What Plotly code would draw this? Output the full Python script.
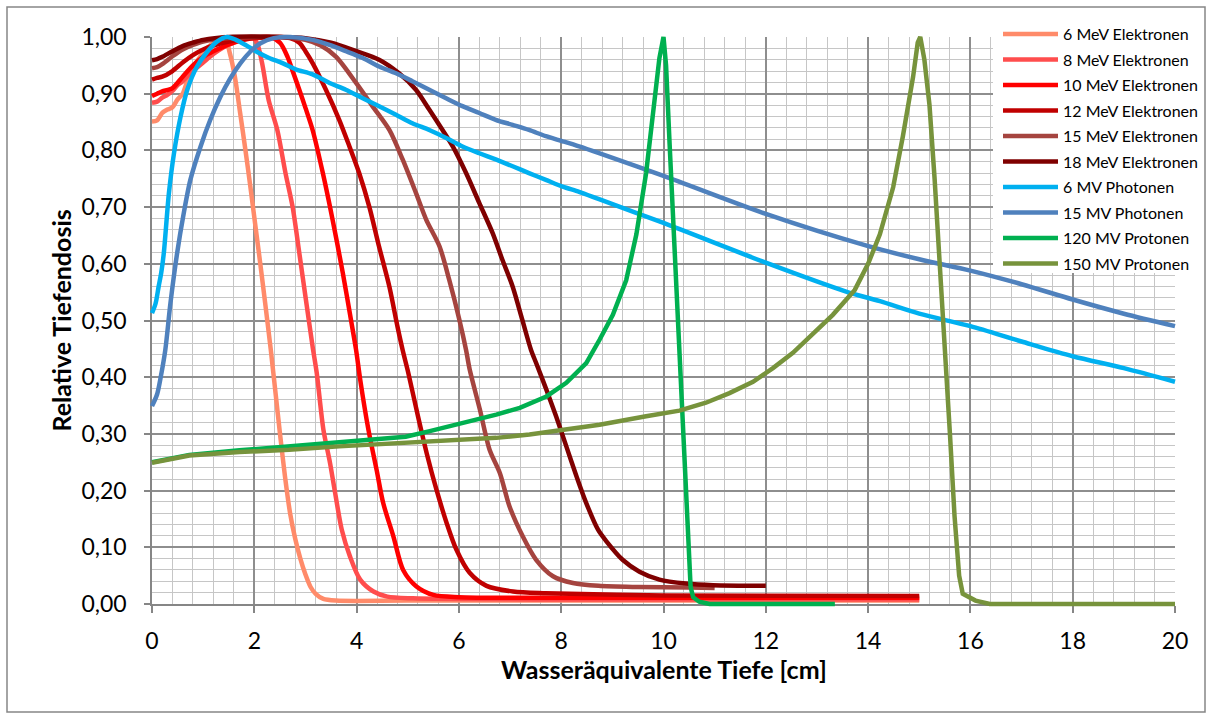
import plotly.graph_objects as go

# ---------------- data ----------------
x_6mev = [0, 0.1, 0.2, 0.3, 0.4, 0.5, 0.6, 0.7, 0.8, 0.9, 1.0, 1.1, 1.2, 1.3, 1.42, 1.52, 1.62, 1.72, 1.82, 1.92, 2.02, 2.12, 2.22, 2.32, 2.42, 2.5, 2.6, 2.7, 2.8, 2.9, 3.0, 3.1, 3.2, 3.35, 3.6, 5, 10, 15]
y_6mev = [0.851, 0.853, 0.866, 0.872, 0.876, 0.89, 0.90, 0.925, 0.945, 0.96, 0.972, 0.982, 0.99, 0.996, 1.0, 0.972, 0.93, 0.868, 0.805, 0.738, 0.668, 0.598, 0.525, 0.45, 0.368, 0.302, 0.225, 0.16, 0.115, 0.08, 0.052, 0.03, 0.018, 0.009, 0.006, 0.006, 0.006, 0.006]

x_8mev = [0, 0.1, 0.2, 0.3, 0.4, 0.5, 0.6, 0.8, 1.0, 1.2, 1.4, 1.6, 1.8, 1.95, 2.05, 2.15, 2.28, 2.45, 2.61, 2.75, 2.88, 3.01, 3.14, 3.22, 3.35, 3.48, 3.58, 3.71, 3.87, 4.07, 4.33, 4.6, 5.1, 8, 15]
y_8mev = [0.884, 0.886, 0.893, 0.898, 0.905, 0.915, 0.922, 0.94, 0.955, 0.97, 0.982, 0.99, 0.997, 1.0, 0.99, 0.955, 0.889, 0.836, 0.76, 0.70, 0.619, 0.536, 0.454, 0.408, 0.308, 0.249, 0.196, 0.131, 0.084, 0.043, 0.022, 0.013, 0.01, 0.008, 0.008]

x_10mev = [0, 0.1, 0.2, 0.4, 0.6, 0.8, 1.0, 1.2, 1.4, 1.6, 1.8, 2.0, 2.3, 2.5, 2.65, 2.75, 2.88, 3.0, 3.14, 3.34, 3.53, 3.73, 3.89, 3.99, 4.07, 4.23, 4.39, 4.52, 4.72, 4.91, 5.17, 5.5, 6.0, 8, 15]
y_10mev = [0.896, 0.9, 0.904, 0.91, 0.93, 0.95, 0.965, 0.975, 0.983, 0.99, 0.995, 0.998, 1.0, 0.99, 0.965, 0.94, 0.907, 0.875, 0.836, 0.76, 0.678, 0.584, 0.501, 0.448, 0.396, 0.308, 0.237, 0.178, 0.119, 0.06, 0.031, 0.016, 0.012, 0.011, 0.011]

x_12mev = [0, 0.1, 0.2, 0.4, 0.6, 0.8, 1.0, 1.2, 1.5, 2.0, 2.5, 2.7, 2.88, 3.0, 3.14, 3.4, 3.66, 3.86, 4.05, 4.25, 4.44, 4.64, 4.80, 4.9, 5.01, 5.2, 5.37, 5.56, 5.76, 5.95, 6.21, 6.54, 7.06, 7.7, 10, 15]
y_12mev = [0.925, 0.928, 0.93, 0.94, 0.955, 0.968, 0.978, 0.985, 0.992, 0.998, 1.0, 0.998, 0.99, 0.975, 0.954, 0.907, 0.854, 0.807, 0.76, 0.70, 0.63, 0.56, 0.489, 0.448, 0.408, 0.331, 0.266, 0.202, 0.143, 0.096, 0.055, 0.032, 0.022, 0.019, 0.015, 0.014]

x_15mev = [0, 0.1, 0.2, 0.4, 0.6, 0.8, 1.0, 1.5, 2.0, 2.5, 3.0, 3.3, 3.6, 3.99, 4.31, 4.64, 4.9, 5.16, 5.36, 5.62, 5.81, 6.01, 6.14, 6.21, 6.41, 6.6, 6.8, 6.99, 7.25, 7.51, 7.84, 8.23, 8.73, 9.5, 10.5, 11.0]
y_15mev = [0.945, 0.947, 0.952, 0.966, 0.978, 0.986, 0.992, 0.998, 1.0, 1.0, 0.995, 0.985, 0.965, 0.919, 0.878, 0.836, 0.784, 0.725, 0.678, 0.631, 0.572, 0.501, 0.448, 0.414, 0.343, 0.272, 0.231, 0.172, 0.119, 0.078, 0.049, 0.037, 0.032, 0.03, 0.029, 0.028]

x_18mev = [0, 0.1, 0.2, 0.4, 0.6, 0.8, 1.0, 1.5, 2.5, 3.0, 3.5, 4.0, 4.44, 4.83, 5.16, 5.42, 5.68, 5.88, 6.14, 6.4, 6.66, 6.85, 7.05, 7.24, 7.41, 7.51, 7.71, 7.9, 8.1, 8.3, 8.49, 8.72, 8.88, 9.2, 9.53, 9.92, 10.44, 10.97, 12.0]
y_18mev = [0.959, 0.961, 0.965, 0.975, 0.984, 0.99, 0.995, 1.0, 1.0, 0.998, 0.99, 0.975, 0.96, 0.936, 0.907, 0.872, 0.836, 0.807, 0.76, 0.707, 0.654, 0.607, 0.56, 0.501, 0.448, 0.425, 0.378, 0.331, 0.278, 0.225, 0.178, 0.131, 0.111, 0.078, 0.057, 0.043, 0.036, 0.033, 0.032]

x_6mv = [0, 0.07, 0.13, 0.18, 0.23, 0.33, 0.43, 0.56, 0.69, 0.88, 1.08, 1.27, 1.47, 1.64, 1.83, 2.03, 2.29, 2.55, 2.81, 3.14, 3.47, 3.79, 4.12, 4.44, 4.77, 5.09, 5.42, 5.75, 6.07, 6.4, 6.72, 7.05, 7.37, 7.7, 8.03, 8.35, 8.74, 10.0, 12.0, 13.57, 14.23, 15.0, 16.0, 17.0, 18.0, 19.0, 20.0]
y_6mv = [0.513, 0.53, 0.56, 0.584, 0.618, 0.724, 0.795, 0.86, 0.907, 0.948, 0.974, 0.992, 1.0, 0.995, 0.986, 0.975, 0.963, 0.954, 0.943, 0.934, 0.919, 0.907, 0.892, 0.878, 0.863, 0.848, 0.836, 0.822, 0.807, 0.795, 0.784, 0.772, 0.76, 0.748, 0.736, 0.727, 0.714, 0.672, 0.602, 0.551, 0.534, 0.512, 0.49, 0.463, 0.437, 0.416, 0.392]

x_15mv = [0, 0.1, 0.17, 0.26, 0.36, 0.49, 0.62, 0.75, 0.95, 1.14, 1.34, 1.53, 1.73, 1.92, 2.12, 2.38, 2.7, 3.14, 3.47, 3.79, 4.12, 4.44, 4.77, 5.09, 5.42, 5.75, 6.07, 6.4, 6.72, 7.05, 7.37, 7.7, 8.03, 8.35, 8.74, 10.0, 12.0, 13.97, 15.0, 16.0, 17.0, 18.0, 19.0, 20.0]
y_15mv = [0.349, 0.37, 0.40, 0.448, 0.53, 0.618, 0.689, 0.748, 0.807, 0.854, 0.895, 0.927, 0.954, 0.974, 0.989, 0.998, 1.0, 0.995, 0.986, 0.975, 0.963, 0.948, 0.936, 0.922, 0.907, 0.892, 0.878, 0.866, 0.854, 0.845, 0.836, 0.825, 0.816, 0.807, 0.795, 0.755, 0.688, 0.632, 0.608, 0.588, 0.564, 0.537, 0.512, 0.49]

x_120mv = [0, 0.73, 1.71, 2.68, 3.66, 4.0, 4.64, 4.96, 5.43, 5.62, 6.08, 6.73, 7.19, 7.71, 8.1, 8.49, 8.75, 9.01, 9.27, 9.47, 9.66, 9.79, 9.92, 10.0, 10.05, 10.12, 10.2, 10.28, 10.36, 10.44, 10.5, 10.53, 10.58, 10.7, 10.9, 13.35]
y_120mv = [0.25, 0.263, 0.271, 0.278, 0.284, 0.287, 0.291, 0.295, 0.305, 0.309, 0.319, 0.334, 0.346, 0.366, 0.39, 0.425, 0.466, 0.51, 0.571, 0.652, 0.76, 0.861, 0.963, 1.0, 0.95, 0.81, 0.65, 0.49, 0.33, 0.18, 0.07, 0.03, 0.012, 0.004, 0.0, 0.0]

x_150mv = [0, 0.73, 1.71, 2.68, 3.66, 4.64, 5.43, 6.73, 7.38, 8.03, 8.75, 9.66, 10.31, 10.83, 11.29, 11.75, 12.14, 12.53, 12.92, 13.31, 13.74, 14.0, 14.23, 14.49, 14.68, 14.88, 14.97, 15.02, 15.1, 15.2, 15.3, 15.4, 15.5, 15.6, 15.69, 15.78, 15.85, 16.1, 16.38, 20.0]
y_150mv = [0.249, 0.262, 0.268, 0.272, 0.278, 0.283, 0.287, 0.293, 0.299, 0.308, 0.316, 0.331, 0.341, 0.355, 0.372, 0.392, 0.416, 0.443, 0.476, 0.51, 0.554, 0.6, 0.652, 0.735, 0.825, 0.93, 0.99, 1.0, 0.96, 0.88, 0.75, 0.61, 0.46, 0.30, 0.155, 0.05, 0.018, 0.006, 0.0, 0.0]

series_names = ["6 MeV Elektronen", "8 MeV Elektronen", "10 MeV Elektronen", "12 MeV Elektronen",
                "15 MeV Elektronen", "18 MeV Elektronen", "6 MV Photonen", "15 MV Photonen",
                "120 MV Protonen", "150 MV Protonen"]
series_x = [x_6mev, x_8mev, x_10mev, x_12mev, x_15mev, x_18mev, x_6mv, x_15mv, x_120mv, x_150mv]
series_y = [y_6mev, y_8mev, y_10mev, y_12mev, y_15mev, y_18mev, y_6mv, y_15mv, y_120mv, y_150mv]
series_colors = ["#FF8B6A", "#FF4D4D", "#FF0000", "#C00000", "#A5443F", "#7F0000",
                 "#00B0F0", "#4F81BD", "#00B050", "#77933C"]
series_shape = ["spline"] * 8 + ["linear", "linear"]

x_tickvals = list(range(0, 21, 2))
y_tickvals = [i / 10 for i in range(11)]

# ---------------- layout geometry (pixels) ----------------
W, H = 1213, 722
X0PX, X1PX = 152, 1175      # x=0 and x=20
Y1PX, Y0PX = 37, 604        # y=1 and y=0
PAD = 12
ml, mr, mt, mb = X0PX - PAD, W - (X1PX + PAD), Y1PX - PAD, H - (Y0PX + PAD)
pw, ph = W - ml - mr, H - mt - mb
XMAX, YMAX = 20, 1.0
sx = (X1PX - X0PX) / XMAX
sy = (Y0PX - Y1PX) / YMAX


def pxx(px):
    return (px - ml) / pw


def pxy(py):
    return (H - mb - py) / ph


fig = go.Figure()
# invisible anchor trace so that the grid subplot (x, y) is drawn
fig.add_trace(go.Scatter(x=[0], y=[0], mode="none", showlegend=False, hoverinfo="skip",
                         xaxis="x", yaxis="y"))
for i, name in enumerate(series_names):
    fig.add_trace(go.Scatter(
        x=series_x[i], y=series_y[i], name=name, mode="lines",
        line=dict(color=series_colors[i], width=4.5, shape=series_shape[i], smoothing=0.8),
        xaxis="x2", yaxis="y2", legendgroup=name,
    ))

grid_major = "#8E8E8E"
grid_minor = "#C6C6C6"
axis_col = "#868686"
tick_font = dict(family="Lato", size=23, color="#000000")

# white area behind the legend (hides the grid there, stays below the curves)
leg_left_x = (993 - X0PX) / sx
leg_bottom_y = (Y0PX - 273) / sy

fig.update_layout(
    width=W, height=H,
    margin=dict(l=ml, r=mr, t=mt, b=mb, autoexpand=False),
    paper_bgcolor="white", plot_bgcolor="rgba(0,0,0,0)",
    separators=",.",
    showlegend=True,
    legend=dict(x=pxx(998), y=pxy(17), xanchor="left", yanchor="top",
                bgcolor="rgba(0,0,0,0)", borderwidth=0, tracegroupgap=1.7,
                font=dict(family="Lato", size=16, color="#000000"),
                itemwidth=55),
    xaxis=dict(domain=[PAD / pw, 1 - PAD / pw], range=[0, XMAX], tickvals=x_tickvals,
               showgrid=True, gridcolor=grid_major, gridwidth=1.5,
               minor=dict(dtick=0.4, showgrid=True, gridcolor=grid_minor, gridwidth=1.2),
               showline=True, linecolor=axis_col, linewidth=1.5, zeroline=False,
               ticks="outside", ticklen=7, tickwidth=1.5, tickcolor=axis_col,
               ticklabelstandoff=9, tickfont=tick_font, anchor="y", fixedrange=True),
    yaxis=dict(domain=[PAD / ph, 1 - PAD / ph], range=[0, YMAX], tickvals=y_tickvals,
               tickformat=".2f",
               showgrid=True, gridcolor=grid_major, gridwidth=1.5,
               minor=dict(dtick=0.02, showgrid=True, gridcolor=grid_minor, gridwidth=1.2),
               showline=True, linecolor=axis_col, linewidth=1.5, zeroline=False,
               ticks="outside", ticklen=6, tickwidth=1.5, tickcolor=axis_col,
               ticklabelstandoff=13, tickfont=tick_font, anchor="x", fixedrange=True),
    xaxis2=dict(domain=[0, 1], range=[-PAD / sx, XMAX + PAD / sx], visible=False,
                anchor="y2", fixedrange=True),
    yaxis2=dict(domain=[0, 1], range=[-PAD / sy, YMAX + PAD / sy], visible=False,
                anchor="x2", fixedrange=True),
    annotations=[
        dict(text="<b>Wasseräquivalente Tiefe [cm]</b>", xref="paper", yref="paper",
             x=pxx((X0PX + X1PX) / 2), y=pxy(669), xanchor="center", yanchor="middle",
             showarrow=False, font=dict(family="Lato", size=25, color="#000000")),
        dict(text="<b>Relative Tiefendosis</b>", xref="paper", yref="paper",
             x=pxx(60), y=pxy((Y0PX + Y1PX) / 2), xanchor="center", yanchor="middle",
             textangle=-90, showarrow=False,
             font=dict(family="Lato", size=25, color="#000000")),
    ],
    shapes=[
        dict(type="rect", xref="paper", yref="paper",
             x0=pxx(7), x1=pxx(1205), y0=pxy(712), y1=pxy(7),
             line=dict(color=axis_col, width=1.5), layer="below"),
        dict(type="rect", xref="x", yref="y", x0=leg_left_x, x1=XMAX + 1,
             y0=leg_bottom_y, y1=YMAX + 0.1, fillcolor="white",
             line=dict(width=0), layer="between"),
    ],
)

fig.write_html("out.html")
